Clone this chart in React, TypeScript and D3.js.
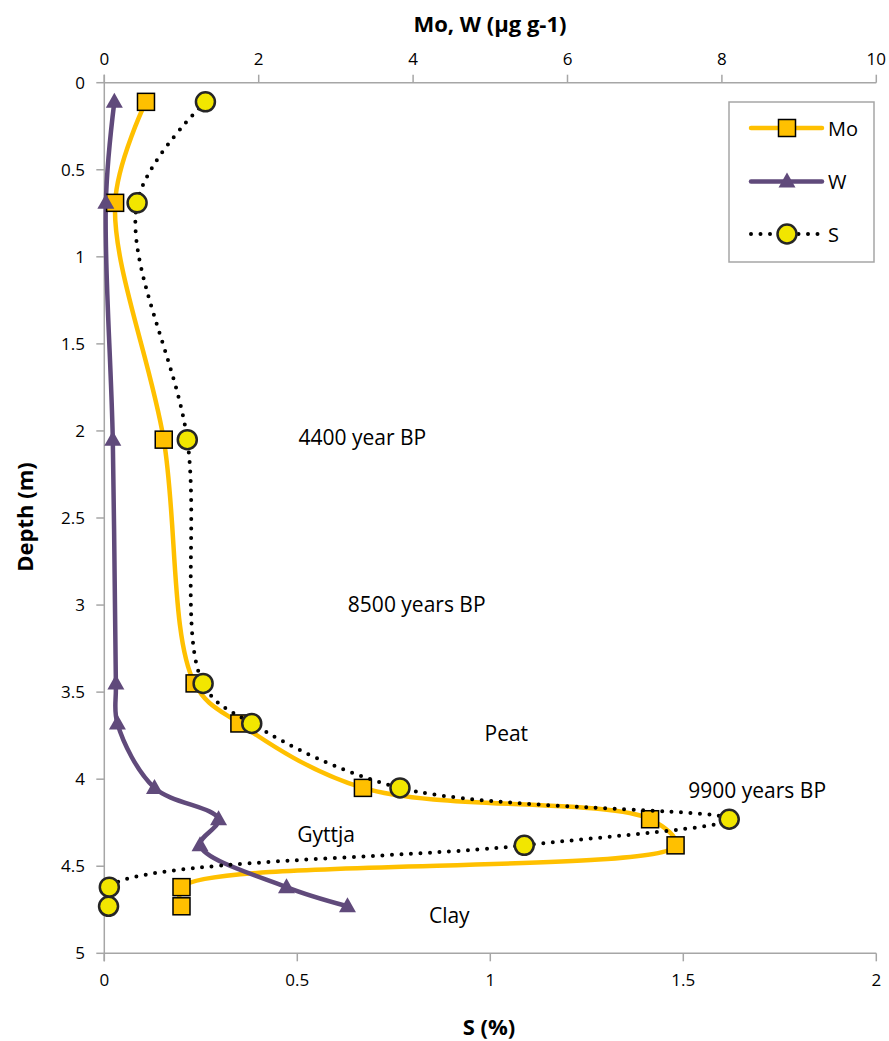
import React from "react";
import * as d3 from "d3";

const depth = [0.11, 0.69, 2.05, 3.45, 3.68, 4.05, 4.23, 4.38, 4.62, 4.73];
const moValues = [0.54, 0.14, 0.77, 1.17, 1.75, 3.35, 7.07, 7.4, 1.0, 1.0];
const wValues = [0.13, 0.02, 0.11, 0.15, 0.17, 0.65, 1.48, 1.24, 2.36, 3.15];
const sValues = [0.262, 0.085, 0.215, 0.256, 0.382, 0.766, 1.619, 1.088, 0.013, 0.011];

const topTicks = [0, 2, 4, 6, 8, 10];
const bottomTicks = [0, 0.5, 1, 1.5, 2];
const depthTicks = [0, 0.5, 1, 1.5, 2, 2.5, 3, 3.5, 4, 4.5, 5];

const annotations = [
  { text: "4400 year BP", s: 0.503, d: 2.081 },
  { text: "8500 years BP", s: 0.631, d: 3.038 },
  { text: "Peat", s: 0.985, d: 3.779 },
  { text: "9900 years BP", s: 1.513, d: 4.108 },
  { text: "Gyttja", s: 0.5, d: 4.359 },
  { text: "Clay", s: 0.841, d: 4.826 },
];

const FONT = "'Open Sans', sans-serif";
const AXIS = "#A6A6A6";
const MO = "#FFC000";
const W = "#604A7B";

export default function App() {
  const x0 = 104.3, x1 = 876.3, y0 = 82.7, y1 = 953.3;
  const xTop = d3.scaleLinear().domain([0, 10]).range([x0, x1]);
  const xBot = d3.scaleLinear().domain([0, 2]).range([x0, x1]);
  const y = d3.scaleLinear().domain([0, 5]).range([y0, y1]);

  const curve = d3.curveCatmullRom.alpha(0.5);
  const moLine = d3.line<number>().x((v) => xTop(v)).y((_, i) => y(depth[i])).curve(curve);
  const sLine = d3.line<number>().x((v) => xBot(v)).y((_, i) => y(depth[i])).curve(curve);

  const sq = 17;
  const tri = (cx: number, cy: number) => {
    const w = 17, h = 15;
    return `M${cx},${cy - h * 0.6} L${cx + w / 2},${cy + h * 0.4} L${cx - w / 2},${cy + h * 0.4} Z`;
  };

  return (
    <svg width={889} height={1041} style={{ position: "absolute", left: 0, top: 0, background: "#fff" }} fontFamily={FONT}>
      <rect width={889} height={1041} fill="#fff" />
      {/* axes */}
      <g stroke={AXIS} strokeWidth={1.5} fill="none">
        <line x1={x0} y1={y0} x2={x1} y2={y0} />
        <line x1={x0} y1={y1} x2={x1} y2={y1} />
        <line x1={x0} y1={y0 - 8} x2={x0} y2={y1 + 8} />
        {topTicks.map((t) => (
          <line key={"tt" + t} x1={xTop(t)} x2={xTop(t)} y1={y0 - 8} y2={y0} />
        ))}
        {bottomTicks.map((t) => (
          <line key={"bt" + t} x1={xBot(t)} x2={xBot(t)} y1={y1} y2={y1 + 8} />
        ))}
        {depthTicks.map((t) => (
          <line key={"dt" + t} x1={x0 - 8} x2={x0} y1={y(t)} y2={y(t)} />
        ))}
      </g>
      <g fontSize={17} fill="#000">
        {topTicks.map((t) => (
          <text key={"tl" + t} x={xTop(t)} y={65} textAnchor="middle">{t}</text>
        ))}
        {bottomTicks.map((t) => (
          <text key={"bl" + t} x={xBot(t)} y={986} textAnchor="middle">{t}</text>
        ))}
        {depthTicks.map((t) => (
          <text key={"dl" + t} x={85} y={y(t) + 6} textAnchor="end">{t}</text>
        ))}
      </g>
      {/* titles */}
      <text x={490} y={32} textAnchor="middle" fontSize={22} fontWeight="bold">Mo, W (µg g-1)</text>
      <text x={489} y={1035} textAnchor="middle" fontSize={22} fontWeight="bold">S (%)</text>
      <text transform="translate(33,517) rotate(-90)" textAnchor="middle" fontSize={22} fontWeight="bold">Depth (m)</text>

      {/* annotations */}
      <g fontSize={21} fill="#000">
        {annotations.map((a) => (
          <text key={a.text} x={xBot(a.s)} y={y(a.d)}>{a.text}</text>
        ))}
      </g>

      {/* Mo */}
      <path d={moLine(moValues) || ""} fill="none" stroke={MO} strokeWidth={4.5} />
      {/* W */}
      <path d={moLine(wValues) || ""} fill="none" stroke={W} strokeWidth={4.5} />
      {moValues.map((v, i) => (
        <rect key={"m" + i} x={xTop(v) - sq / 2} y={y(depth[i]) - sq / 2} width={sq} height={sq} fill={MO} stroke="#000" strokeWidth={1.5} />
      ))}
      {wValues.map((v, i) => (
        <path key={"w" + i} d={tri(xTop(v), y(depth[i]))} fill={W} />
      ))}
      {/* S */}
      <path d={sLine(sValues) || ""} fill="none" stroke="#000" strokeWidth={4} strokeDasharray="0 9.5" strokeLinecap="round" />
      {sValues.map((v, i) => (
        <circle key={"s" + i} cx={xBot(v)} cy={y(depth[i])} r={9.5} fill="#F2E600" stroke="#262626" strokeWidth={2.5} />
      ))}

      {/* legend */}
      <rect x={729} y={102} width={145} height={160} fill="#fff" stroke={AXIS} strokeWidth={1.5} />
      <g>
        <line x1={751} x2={822} y1={128} y2={128} stroke={MO} strokeWidth={4.5} strokeLinecap="round" />
        <rect x={787 - sq / 2} y={128 - sq / 2} width={sq} height={sq} fill={MO} stroke="#000" strokeWidth={1.5} />
        <text x={828} y={135.5} fontSize={20}>Mo</text>
        <line x1={751} x2={822} y1={181.5} y2={181.5} stroke={W} strokeWidth={4.5} strokeLinecap="round" />
        <path d={tri(787, 181.5)} fill={W} />
        <text x={828} y={189} fontSize={20}>W</text>
        <line x1={751} x2={822} y1={234} y2={234} stroke="#000" strokeWidth={4} strokeDasharray="0 9.5" strokeLinecap="round" />
        <circle cx={787} cy={234} r={9.5} fill="#F2E600" stroke="#262626" strokeWidth={2.5} />
        <text x={828} y={241.5} fontSize={20}>S</text>
      </g>
    </svg>
  );
}
